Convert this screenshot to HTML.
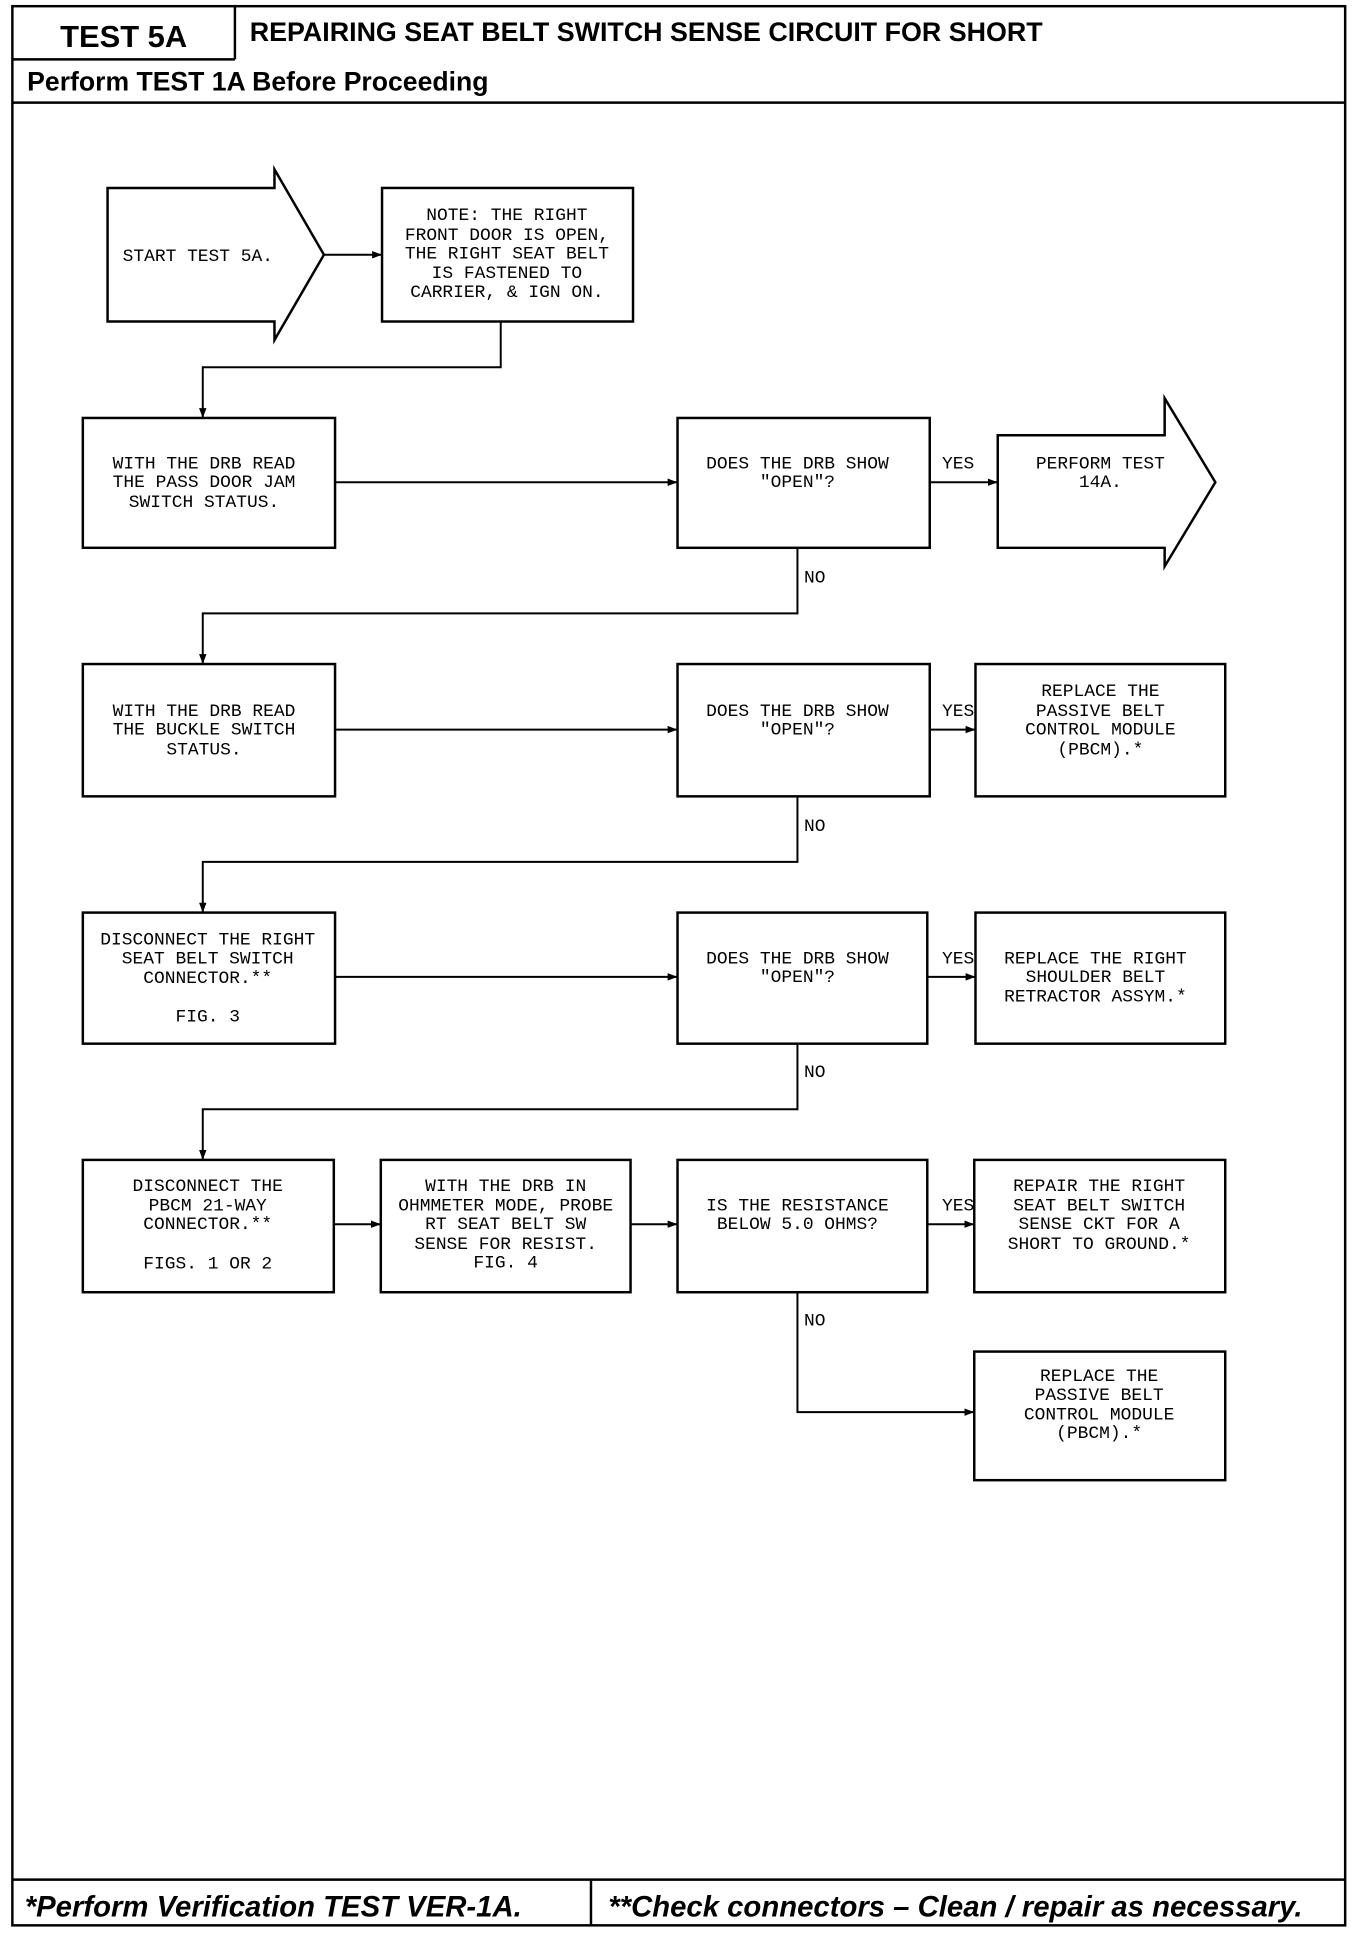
<!DOCTYPE html>
<html><head><meta charset="utf-8"><style>
html,body{margin:0;padding:0;background:#fff}
svg{display:block}
.t{font-family:"Liberation Mono",monospace;font-size:14.5px;fill:#000;text-anchor:middle}
.h{font-family:"Liberation Sans",sans-serif;font-weight:bold;fill:#000}
.f{font-family:"Liberation Sans",sans-serif;font-weight:bold;font-style:italic;font-size:23.7px;fill:#000}
</style></head><body>
<svg width="1360" height="1934" viewBox="0 0 1100 1564" preserveAspectRatio="none" xmlns="http://www.w3.org/2000/svg">
<defs><marker id="a" markerWidth="8" markerHeight="6" refX="8" refY="3" orient="auto" markerUnits="userSpaceOnUse"><path d="M0,0 L8,3 L0,6 z" fill="#000"/></marker></defs>
<g fill="none" stroke="#000" stroke-width="2">
<rect x="10" y="5" width="1078" height="1552"/>
<line x1="190" y1="5" x2="190" y2="48"/>
<line x1="10" y1="48" x2="190" y2="48"/>
<line x1="10" y1="83" x2="1088" y2="83"/>
<line x1="10" y1="1520" x2="1088" y2="1520"/>
<line x1="478" y1="1520" x2="478" y2="1557"/>
</g>
<text class="h" x="100" y="38" font-size="25" text-anchor="middle">TEST 5A</text>
<text class="h" x="202" y="33" font-size="21.7">REPAIRING SEAT BELT SWITCH SENSE CIRCUIT FOR SHORT</text>
<text class="h" x="22" y="73" font-size="21.5">Perform TEST 1A Before Proceeding</text>
<text class="f" x="20" y="1550">*Perform Verification TEST VER-1A.</text>
<text class="f" x="492" y="1550">**Check connectors – Clean / repair as necessary.</text>

<g fill="#fff" stroke="#000" stroke-width="2">
<path d="M87,152 L222,152 L222,137 L262,206 L222,275 L222,260 L87,260 Z"/>
<rect x="309" y="152" width="203" height="108"/>
<rect x="67" y="338" width="204" height="105"/>
<rect x="548" y="338" width="204" height="105"/>
<path d="M807,352 L942,352 L942,322 L983,390 L942,458 L942,443 L807,443 Z"/>
<rect x="67" y="537" width="204" height="107"/>
<rect x="548" y="537" width="204" height="107"/>
<rect x="789" y="537" width="202" height="107"/>
<rect x="67" y="738" width="204" height="106"/>
<rect x="548" y="738" width="202" height="106"/>
<rect x="789" y="738" width="202" height="106"/>
<rect x="67" y="938" width="203" height="107"/>
<rect x="308" y="938" width="202" height="107"/>
<rect x="548" y="938" width="202" height="107"/>
<rect x="788" y="938" width="203" height="107"/>
<rect x="788" y="1093" width="203" height="104"/>
</g>
<g fill="none" stroke="#000" stroke-width="1.6" marker-end="url(#a)">
<line x1="262" y1="206" x2="309" y2="206"/>
<polyline points="405,260 405,297 164,297 164,338"/>
<line x1="271" y1="390" x2="548" y2="390"/>
<line x1="752" y1="390" x2="807" y2="390"/>
<polyline points="645,443 645,496 164,496 164,537"/>
<line x1="271" y1="590" x2="548" y2="590"/>
<line x1="752" y1="590" x2="789" y2="590"/>
<polyline points="645,644 645,697 164,697 164,738"/>
<line x1="271" y1="790" x2="548" y2="790"/>
<line x1="750" y1="790" x2="789" y2="790"/>
<polyline points="645,844 645,897 164,897 164,938"/>
<line x1="270" y1="990" x2="308" y2="990"/>
<line x1="510" y1="990" x2="548" y2="990"/>
<line x1="750" y1="990" x2="788" y2="990"/>
<polyline points="645,1045 645,1142 788,1142"/>
</g>
<g class="t">
<text x="160" y="211" class="t">START TEST 5A.</text>
<text x="410" y="178" class="t">NOTE: THE RIGHT</text>
<text x="410" y="194" class="t">FRONT DOOR IS OPEN,</text>
<text x="410" y="209" class="t">THE RIGHT SEAT BELT</text>
<text x="410" y="225" class="t">IS FASTENED TO</text>
<text x="410" y="240" class="t">CARRIER, &amp; IGN ON.</text>
<text x="165" y="379" class="t">WITH THE DRB READ</text>
<text x="165" y="394" class="t">THE PASS DOOR JAM</text>
<text x="165" y="410" class="t">SWITCH STATUS.</text>
<text x="645" y="379" class="t">DOES THE DRB SHOW</text>
<text x="645" y="394" class="t">"OPEN"?</text>
<text x="890" y="379" class="t">PERFORM TEST</text>
<text x="890" y="394" class="t">14A.</text>
<text x="165" y="579" class="t">WITH THE DRB READ</text>
<text x="165" y="594" class="t">THE BUCKLE SWITCH</text>
<text x="165" y="610" class="t">STATUS.</text>
<text x="645" y="579" class="t">DOES THE DRB SHOW</text>
<text x="645" y="594" class="t">"OPEN"?</text>
<text x="890" y="563" class="t">REPLACE THE</text>
<text x="890" y="579" class="t">PASSIVE BELT</text>
<text x="890" y="594" class="t">CONTROL MODULE</text>
<text x="890" y="610" class="t">(PBCM).*</text>
<text x="168" y="764" class="t">DISCONNECT THE RIGHT</text>
<text x="168" y="779" class="t">SEAT BELT SWITCH</text>
<text x="168" y="795" class="t">CONNECTOR.**</text>
<text x="168" y="826" class="t">FIG. 3</text>
<text x="645" y="779" class="t">DOES THE DRB SHOW</text>
<text x="645" y="794" class="t">"OPEN"?</text>
<text x="886" y="779" class="t">REPLACE THE RIGHT</text>
<text x="886" y="794" class="t">SHOULDER BELT</text>
<text x="886" y="810" class="t">RETRACTOR ASSYM.*</text>
<text x="168" y="963" class="t">DISCONNECT THE</text>
<text x="168" y="979" class="t">PBCM 21-WAY</text>
<text x="168" y="994" class="t">CONNECTOR.**</text>
<text x="168" y="1026" class="t">FIGS. 1 OR 2</text>
<text x="409" y="963" class="t">WITH THE DRB IN</text>
<text x="409" y="979" class="t">OHMMETER MODE, PROBE</text>
<text x="409" y="994" class="t">RT SEAT BELT SW</text>
<text x="409" y="1010" class="t">SENSE FOR RESIST.</text>
<text x="409" y="1025" class="t">FIG. 4</text>
<text x="645" y="979" class="t">IS THE RESISTANCE</text>
<text x="645" y="994" class="t">BELOW 5.0 OHMS?</text>
<text x="889" y="963" class="t">REPAIR THE RIGHT</text>
<text x="889" y="979" class="t">SEAT BELT SWITCH</text>
<text x="889" y="994" class="t">SENSE CKT FOR A</text>
<text x="889" y="1010" class="t">SHORT TO GROUND.*</text>
<text x="889" y="1117" class="t">REPLACE THE</text>
<text x="889" y="1132" class="t">PASSIVE BELT</text>
<text x="889" y="1148" class="t">CONTROL MODULE</text>
<text x="889" y="1163" class="t">(PBCM).*</text>
<text x="775" y="379" class="t">YES</text>
<text x="775" y="579" class="t">YES</text>
<text x="775" y="779" class="t">YES</text>
<text x="775" y="979" class="t">YES</text>
<text x="659" y="471" class="t">NO</text>
<text x="659" y="672" class="t">NO</text>
<text x="659" y="871" class="t">NO</text>
<text x="659" y="1072" class="t">NO</text>
</g>
</svg>
</body></html>
